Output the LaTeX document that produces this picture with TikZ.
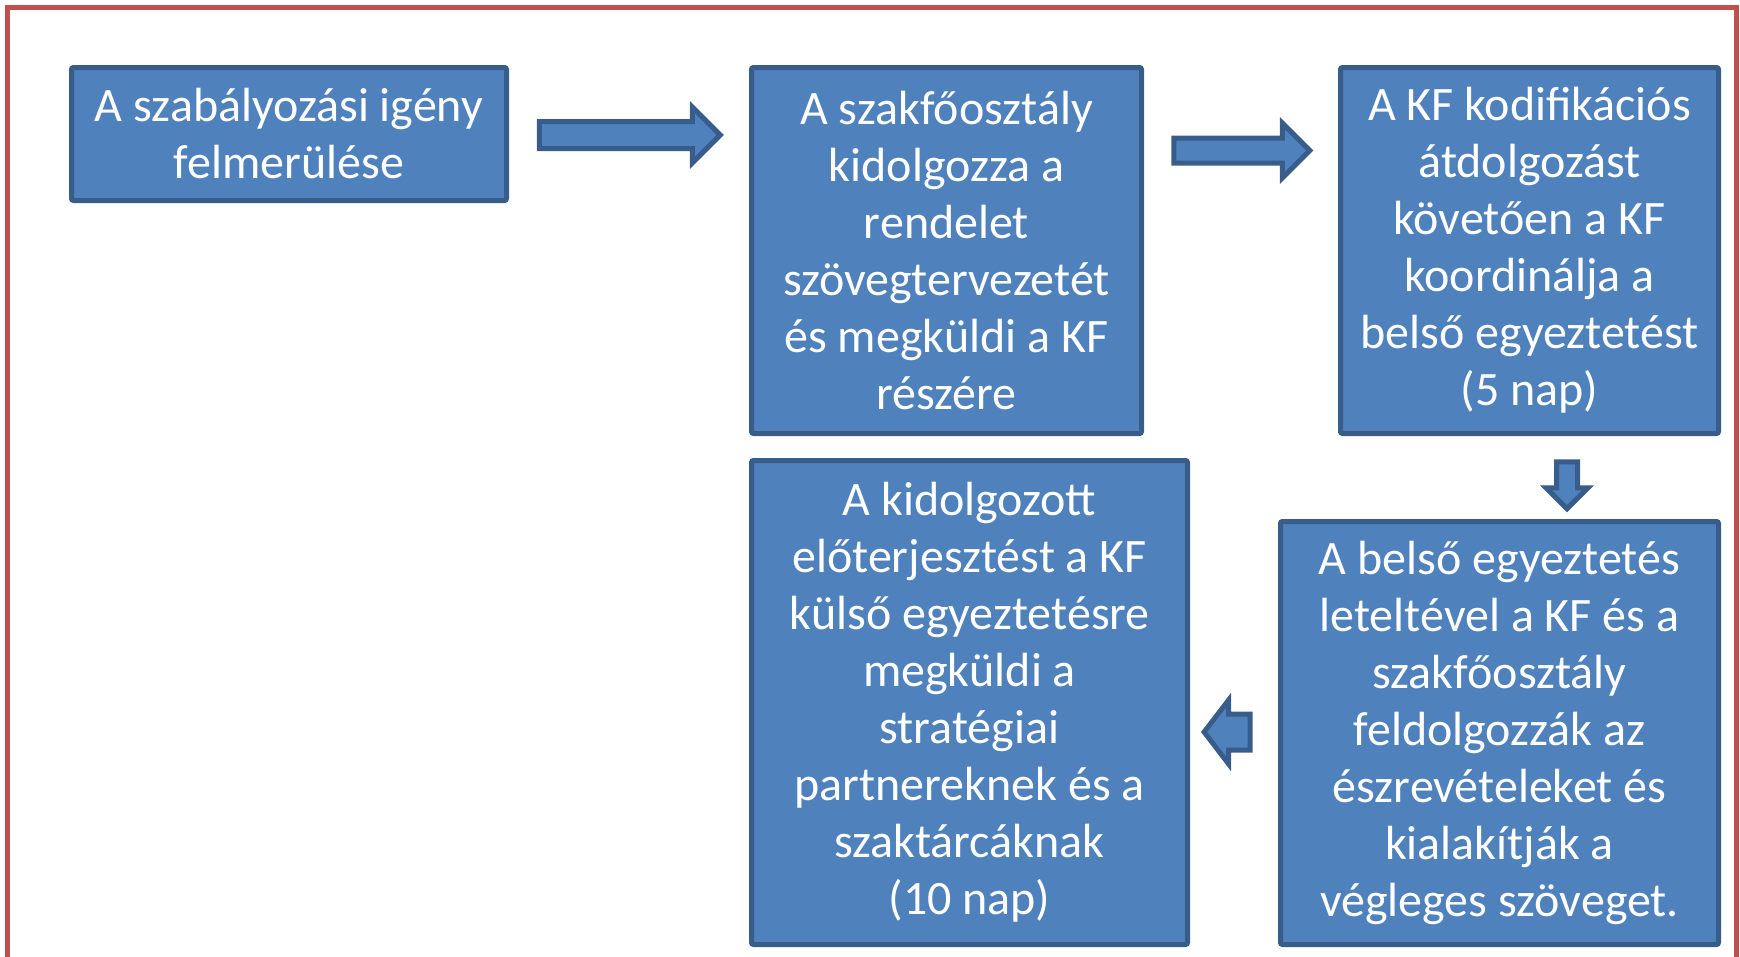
\documentclass[tikz,border=0pt]{standalone}
\usepackage{fontspec}
\setmainfont{Carlito}
\usetikzlibrary{shapes.arrows}
\definecolor{boxfill}{HTML}{4F81BD}
\definecolor{boxline}{HTML}{385D8A}
\definecolor{framered}{HTML}{C0504D}
\tikzset{
  box/.style={draw=boxline, fill=boxfill, line width=5pt, rounded corners=2pt,
    text=white, align=center, inner sep=0pt, font=\fontsize{48}{57}\selectfont},
  blockarrow/.style={single arrow, draw=boxline, fill=boxfill, line width=5pt,
    inner xsep=0pt, single arrow head indent=0pt}
}
\begin{document}
\begin{tikzpicture}[x=1pt,y=-1pt]

\useasboundingbox (0,0) rectangle (1740,956);
\draw[framered,line width=5pt] (7,7) rectangle (1736,990);

% boxes
\node[box, minimum width=435, minimum height=133] (igeny) at (289,134)
  {A szabályozási igény\\felmerülése};
\node[box, minimum width=390, minimum height=366] (szakfo) at (946.5,250.5)
  {A szakfőosztály\\kidolgozza a\\rendelet\\szövegtervezetét\\és megküldi a KF\\részére};
\node[box, minimum width=378, minimum height=366] (kodif) at (1529.5,250.5)
  {A KF kodifikációs\\átdolgozást\\követően a KF\\koordinálja a\\belső egyeztetést\\(5 nap)};
\node[box, minimum width=436, minimum height=484] (kulso) at (969.5,702.5)
  {A kidolgozott\\előterjesztést a KF\\külső egyeztetésre\\megküldi a\\stratégiai\\partnereknek és a\\szaktárcáknak\\(10 nap)};
\node[box, minimum width=438, minimum height=423] (belso) at (1499.5,733)
  {A belső egyeztetés\\leteltével a KF és a\\szakfőosztály\\feldolgozzák az\\észrevételeket és\\kialakítják a\\végleges szöveget.};

% block arrows
\node[blockarrow, minimum height=181, inner ysep=11, single arrow head extend=14.5] (nyil1) at (623,135) {};
\node[blockarrow, minimum height=136, inner ysep=10, single arrow head extend=15] (nyil2) at (1235.5,150.5) {};
\node[blockarrow, shape border rotate=270, minimum height=47, inner ysep=0pt, inner xsep=8, single arrow head extend=10.5] (nyil3) at (1567,480) {};
\node[blockarrow, shape border rotate=180, single arrow tip angle=105, minimum height=46, inner ysep=15.5, single arrow head extend=14] (nyil4) at (1234,732) {};

\end{tikzpicture}
\end{document}
